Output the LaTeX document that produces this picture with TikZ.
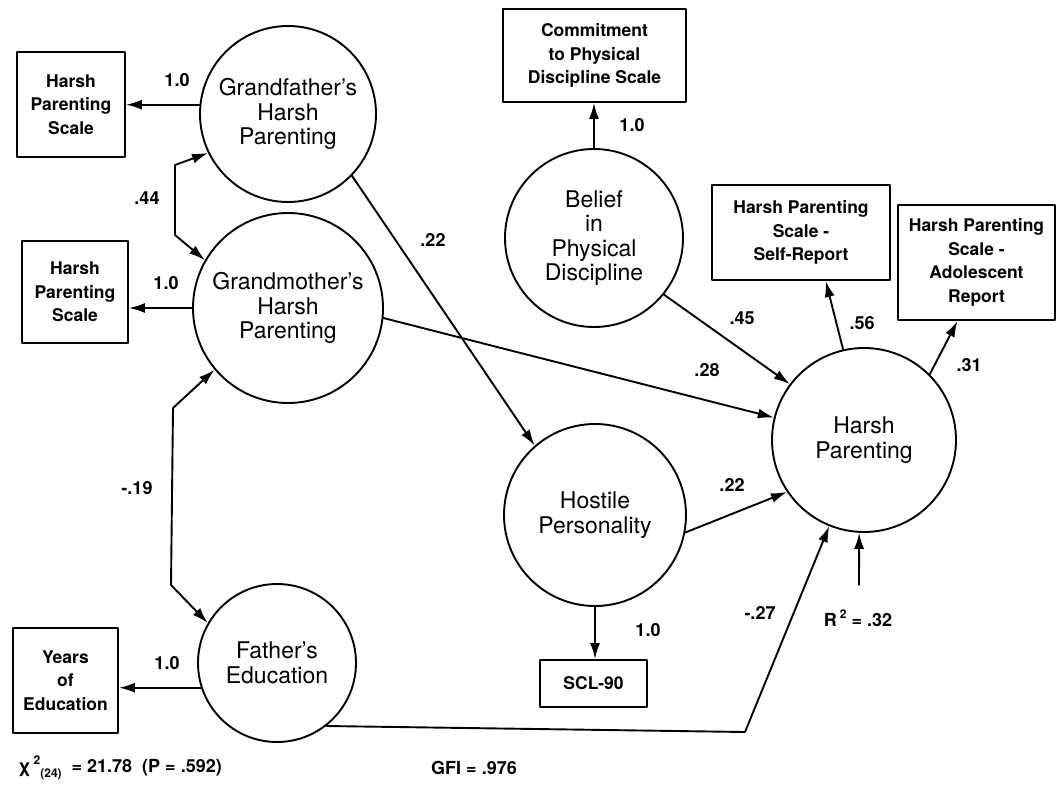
\documentclass[tikz,border=0pt]{standalone}
\usepackage{fontspec}
\setmainfont{TeX Gyre Heros}
\usetikzlibrary{arrows.meta}

\begin{document}
\begin{tikzpicture}[x=1pt,y=-1pt,>={Latex[length=16pt,width=10pt]}, line width=1.9pt, line join=round, line cap=round,
	lat/.style={draw,circle,inner sep=0pt,align=center,font=\fontsize{23}{24.5}\selectfont},
	obs/.style={draw,rectangle,inner sep=0pt,align=center,font=\bfseries\fontsize{17.5}{23.5}\selectfont},
	lab/.style={font=\bfseries\fontsize{18}{20}\selectfont}]
	\useasboundingbox (0,0) rectangle (1057,789);
	% latent variables
	\node[lat,minimum size=176pt] (gf) at (288,114) {Grandfather's\\Harsh\\Parenting};
	\node[lat,minimum size=190pt] (gm) at (288,308) {Grandmother's\\Harsh\\Parenting};
	\node[lat,minimum size=158pt] (fe) at (277,663) {Father's\\Education};
	\node[lat,minimum size=178pt] (bel) at (594,238) {Belief\\in\\Physical\\Discipline};
	\node[lat,minimum size=182pt] (hos) at (595,515) {Hostile\\Personality};
	\node[lat,minimum size=184pt] (hp) at (864,440) {Harsh\\Parenting};
	% indicators
	\node[obs,minimum width=108pt,minimum height=105pt] (hpsA) at (71,104.5) {Harsh\\Parenting\\Scale};
	\node[obs,minimum width=106pt,minimum height=102pt] (hpsB) at (75,292) {Harsh\\Parenting\\Scale};
	\node[obs,minimum width=105pt,minimum height=105pt] (yoe) at (65.5,680.5) {Years\\of\\Education};
	\node[obs,minimum width=183pt,minimum height=93pt] (com) at (594.5,55.5) {Commitment\\to Physical\\Discipline Scale};
	\node[obs,minimum width=178pt,minimum height=95pt] (self) at (801,232.5) {Harsh Parenting\\Scale -\\Self-Report};
	\node[obs,minimum width=157pt,minimum height=115pt] (adol) at (976.5,262.5) {Harsh Parenting\\Scale -\\Adolescent\\Report};
	\node[obs,minimum width=107pt,minimum height=47pt] (scl) at (593.5,683.5) {SCL-90};
	\coordinate (err) at (859,585);
	% paths
	\draw[->] (gf.174) -- (gf.174 -| hpsA.east);
	\draw[->] (gm.west) -- (gm.west -| hpsB.east);
	\draw[->] (fe.198) -- (fe.198 -| yoe.east);
	\draw[->] (bel.north) -- (bel.north |- com.south);
	\draw[->] (hos.south) -- (hos.south |- scl.north);
	\draw[<->] (gf.206) -- (175,165) -- (175,235) -- (gm.150);
	\draw[<->] (gm.220) -- (173,408) -- (171,585) -- (fe.150);
	\draw[->] (gf.-44) -- (hos.131);
	\draw[->] (gm.-6) -- (hp.166);
	\draw[->] (bel.-39) -- (hp.143);
	\draw[->] (hos.-11) -- (hp.214);
	\draw[->] (fe.-52) -- (745,732) -- (hp.-112);
	\draw[->] (hp.103) -- (self.-63);
	\draw[->] (hp.45) -- (adol.-108);
	\draw[->] (err) -- (hp.-93);
	% estimates
	\foreach \n/\x/\y/\t in {la/177/80/1.0, lb/166/283/1.0, lc/167/663/1.0, ld/147/198/.44, le/137/488/-.19,
		lf/632/125/1.0, lg/433/240/.22, lh/707/370/.28, li/742/318/.45, lj/862/323/.56,
		lk/969/365/.31, ll/732/485/.22, lm/648/630/1.0, ln/760/613/-.27}
	{\node[lab] (\n) at (\x,\y) {\t};}
	\node[lab] (r2) at (858,618) {R\,\raisebox{8pt}{\fontsize{12}{12}\selectfont 2} = .32};
	\node[lab,anchor=west] (chi) at (14,768) {χ\,\raisebox{8pt}{\fontsize{12}{12}\selectfont 2}\raisebox{-5pt}{\fontsize{12}{12}\selectfont (24)}\ \ = 21.78 \ (P = .592)};
	\node[lab] (gfi) at (474,768) {GFI = .976};
\end{tikzpicture}
\end{document}
